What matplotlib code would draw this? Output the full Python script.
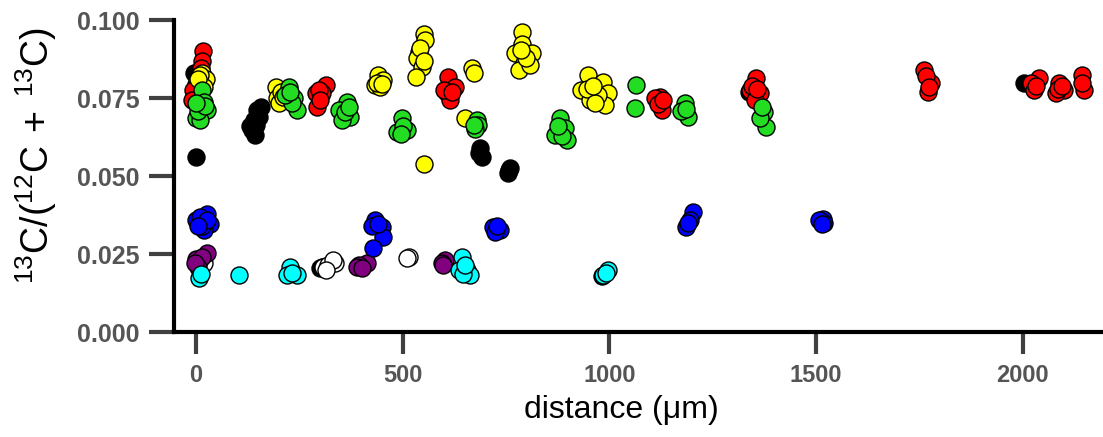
import matplotlib
matplotlib.use("Agg")
import matplotlib.pyplot as plt

plt.rcParams["font.family"] = ["Liberation Sans", "DejaVu Sans"]
plt.rcParams["mathtext.fontset"] = "custom"
plt.rcParams["mathtext.rm"] = "Liberation Sans"

# --------------------------------------------------------------------------- #
# Data (distance in um, 13C fraction), one pair of lists per colour group
# --------------------------------------------------------------------------- #

black_x = [-1, -5, 148, 139, 151, 135, 143, 157, 131, 145, 687, 691, 685,
           759, 755, 757, 981, 2003, 300, 305, 1337]
black_y = [0.0562, 0.0830, 0.0712, 0.0679, 0.0690, 0.0647, 0.0631, 0.0722,
           0.0660, 0.0665, 0.0589, 0.0562, 0.0575, 0.0525, 0.0510, 0.0518,
           0.0180, 0.0797, 0.0205, 0.0210, 0.0770]

white_x = [15, 10, 20, 308, 320, 337, 330, 315, 514, 510]
white_y = [0.0215, 0.0200, 0.0220, 0.0209, 0.0215, 0.0220, 0.0230, 0.0200,
           0.0241, 0.0236]

purple_x = [27, -1, 7, 15, 5, -3, 413, 393, 389, 400, 602, 594, 598]
purple_y = [0.0252, 0.0235, 0.0227, 0.0240, 0.0210, 0.0220, 0.0220, 0.0215,
            0.0210, 0.0205, 0.0231, 0.0220, 0.0215]

cyan_x = [7, 12, 103, 228, 244, 220, 232, 643, 655, 635, 663, 645, 650,
          997, 985, 992]
cyan_y = [0.0172, 0.0185, 0.0183, 0.0209, 0.0183, 0.0183, 0.0190, 0.0241,
          0.0199, 0.0200, 0.0183, 0.0185, 0.0215, 0.0199, 0.0183, 0.0190]

blue_x = [-1, 27, 33, 19, 10, 15, 25, 5, 433, 449, 453, 429, 425, 440,
          735, 719, 723, 727, 1202, 1194, 1186, 1190, 1516, 1520, 1508, 1514]
blue_y = [0.0359, 0.0380, 0.0348, 0.0327, 0.0370, 0.0340, 0.0360, 0.0340,
          0.0359, 0.0338, 0.0305, 0.0268, 0.0340, 0.0345, 0.0327, 0.0338,
          0.0320, 0.0340, 0.0386, 0.0360, 0.0338, 0.0350, 0.0364, 0.0350,
          0.0360, 0.0345]

red_x = [16, 15, 11, 8, 0, -8, -10, 313, 305, 292, 289, 298, 300,
         610, 627, 607, 614, 600, 620, 1122, 1126, 1110, 1118, 1130,
         1355, 1363, 1339, 1351, 1345, 1358, 1762, 1778, 1770, 1766, 1772,
         2040, 2020, 2027, 2032, 2088, 2100, 2080, 2085, 2095, 2144, 2148, 2144]
red_y = [0.0900, 0.0870, 0.0845, 0.0800, 0.0795, 0.0775, 0.0745,
         0.0792, 0.0765, 0.0722, 0.0765, 0.0775, 0.0745,
         0.0818, 0.0786, 0.0765, 0.0744, 0.0775, 0.0770,
         0.0754, 0.0712, 0.0750, 0.0730, 0.0745,
         0.0813, 0.0765, 0.0776, 0.0744, 0.0790, 0.0780,
         0.0840, 0.0797, 0.0770, 0.0820, 0.0785,
         0.0813, 0.0797, 0.0776, 0.0790,
         0.0797, 0.0776, 0.0765, 0.0780, 0.0790,
         0.0824, 0.0776, 0.0800]

yellow_x = [15, 23, 10, 20, 5, 192, 196, 200, 205, 210,
            441, 453, 433, 445, 437, 450,
            550, 554, 538, 534, 546, 532, 542, 550, 550,
            667, 671, 651,
            788, 788, 812, 772, 792, 780, 808, 798, 785,
            949, 985, 997, 932, 953, 989, 973, 945, 965, 960]
yellow_y = [0.0830, 0.0810, 0.0825, 0.0785, 0.0810,
            0.0786, 0.0749, 0.0735, 0.0770, 0.0755,
            0.0824, 0.0808, 0.0792, 0.0786, 0.0800, 0.0795,
            0.0957, 0.0935, 0.0898, 0.0877, 0.0850, 0.0818, 0.0910, 0.0870,
            0.0540,
            0.0845, 0.0830, 0.0685,
            0.0962, 0.0925, 0.0893, 0.0893, 0.0861, 0.0840, 0.0856, 0.0880,
            0.0905,
            0.0824, 0.0802, 0.0765, 0.0776, 0.0744, 0.0728, 0.0760, 0.0778,
            0.0735, 0.0790]

green_x = [15, 19, 27, -1, 10, 5, 22, 0,
           224, 236, 244, 232, 216, 228,
           365, 373, 345, 353, 360, 370,
           498, 510, 486, 500, 495,
           679, 683, 675, 672,
           880, 892, 896, 868, 885, 875,
           1065, 1061, 1182, 1190, 1174, 1185,
           1375, 1379, 1363, 1370]
green_y = [0.0776, 0.0738, 0.0712, 0.0685, 0.0680, 0.0710, 0.0725, 0.0735,
           0.0786, 0.0749, 0.0712, 0.0733, 0.0760, 0.0770,
           0.0738, 0.0690, 0.0712, 0.0680, 0.0705, 0.0720,
           0.0685, 0.0647, 0.0642, 0.0660, 0.0635,
           0.0680, 0.0665, 0.0650, 0.0665,
           0.0685, 0.0653, 0.0615, 0.0631, 0.0630, 0.0660,
           0.0792, 0.0717, 0.0733, 0.0690, 0.0710, 0.0715,
           0.0706, 0.0658, 0.0685, 0.0720]

x_ticks = [0, 500, 1000, 1500, 2000]
y_ticks = [0.000, 0.025, 0.050, 0.075, 0.100]

# drawing order matters: later groups sit on top
groups = [
    (black_x, black_y, "#000000"),
    (white_x, white_y, "#ffffff"),
    (purple_x, purple_y, "#800080"),
    (cyan_x, cyan_y, "#00ffff"),
    (blue_x, blue_y, "#0000ff"),
    (red_x, red_y, "#ff0000"),
    (yellow_x, yellow_y, "#ffff00"),
    (green_x, green_y, "#22dd22"),
]

# --------------------------------------------------------------------------- #
# Figure
# --------------------------------------------------------------------------- #

fig = plt.figure(figsize=(11.03, 4.37), dpi=100)
ax = fig.add_axes([0.158, 0.240, 0.842, 0.714])

for xs, ys, col in groups:
    ax.scatter(xs, ys, s=150, c=col, edgecolors="black", linewidths=1.0,
               zorder=3, clip_on=False)

ax.set_xlim(-53, 2194)
ax.set_ylim(0, 0.1)
ax.set_xticks(x_ticks)
ax.set_yticks(y_ticks)
ax.set_yticklabels([f"{v:.3f}" for v in y_ticks])

for side in ("top", "right"):
    ax.spines[side].set_visible(False)
for side in ("left", "bottom"):
    ax.spines[side].set_linewidth(3.0)
    ax.spines[side].set_color("black")

ax.tick_params(axis="y", direction="out", length=18, width=3,
               color="#404040", pad=7, labelsize=18, labelcolor="#555555")
ax.tick_params(axis="x", direction="out", length=16, width=3,
               color="#404040", pad=7, labelsize=17, labelcolor="#555555")
for lbl in ax.get_xticklabels() + ax.get_yticklabels():
    lbl.set_fontweight("bold")

ax.set_xlabel("distance (\u03bcm)", fontsize=23)
ax.xaxis.set_label_coords(0.481, -0.20)
ax.set_ylabel(r"$\mathregular{^{13}C/(^{12}C\,+\,^{13}C)}$", fontsize=27)
ax.yaxis.set_label_coords(-0.124, 0.567)

fig.savefig("out.png", dpi=100)
plt.close(fig)
